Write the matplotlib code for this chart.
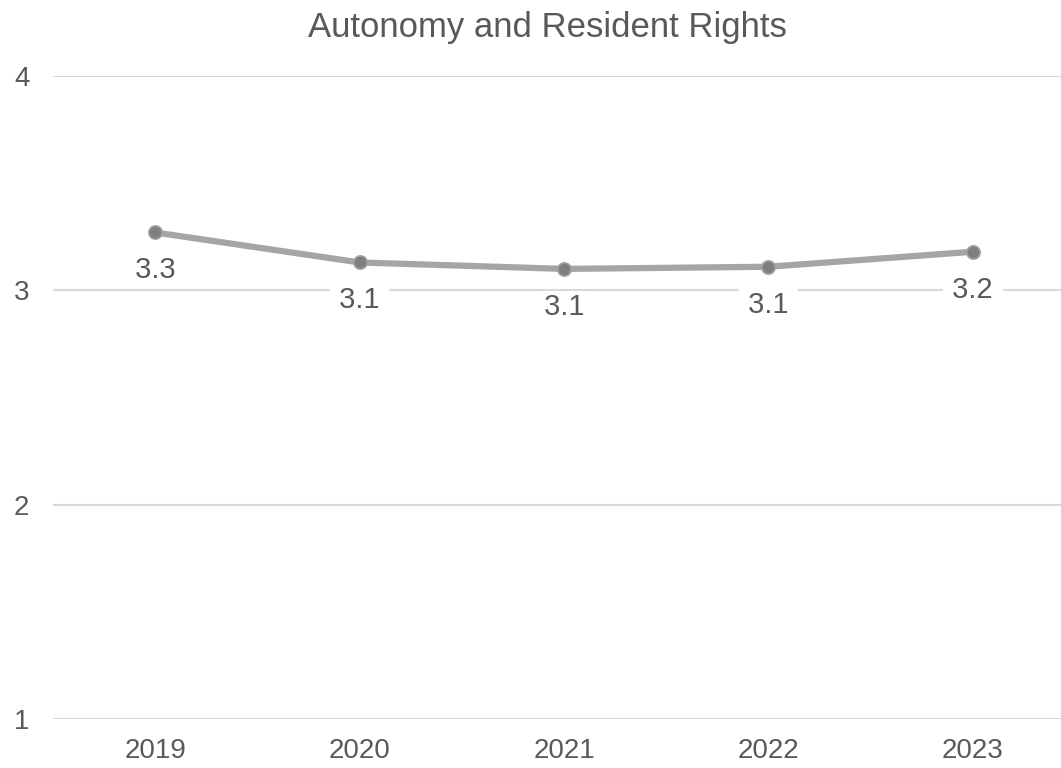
import matplotlib.pyplot as plt

plt.rcParams['font.family'] = ['Liberation Sans', 'DejaVu Sans']

years = ['2019', '2020', '2021', '2022', '2023']
scores = [3.27, 3.13, 3.10, 3.11, 3.18]
labels = ['3.3', '3.1', '3.1', '3.1', '3.2']
yticks = [1, 2, 3, 4]

text_col = '#595959'
grid_col = '#d9d9d9'

fig = plt.figure(figsize=(10.61, 7.68), dpi=100)
ax = fig.add_axes([53/1061, 1 - 719/768, 1022/1061, (719 - 76)/768])

x = list(range(len(years)))
ax.plot(x, scores, '-', color='#a5a5a5', lw=4.5, zorder=3, solid_capstyle='round')
ax.plot(x, scores, 'o', color='#7f7f7f', ms=9.5, mec='#a0a0a0', mew=1.2, zorder=4)

# data labels sit under the points, white box cuts the gridline
# (spaces widen the box sideways, small pad keeps it short vertically)
for xi, v, lab in zip(x, scores, labels):
    ax.annotate(' ' + lab + ' ', (xi, v), xytext=(0, -33), textcoords='offset points',
                ha='center', va='baseline', fontsize=21, color=text_col, zorder=5,
                bbox=dict(boxstyle='square,pad=0.05', fc='white', ec='none'))

ax.set_xlim(-0.5, 4.5)
ax.set_ylim(1, 4)
ax.set_xticks(x)
ax.set_xticklabels(years)
ax.set_yticks(yticks)
ax.tick_params(axis='both', length=0, labelsize=20, labelcolor=text_col)
ax.tick_params(axis='x', pad=13.5)
ax.tick_params(axis='y', pad=17)
ax.grid(axis='y', color=grid_col, lw=1.5)
ax.set_axisbelow(True)
for s in ax.spines.values():
    s.set_visible(False)

fig.text(547.5/1061, 1 - 37/768, 'Autonomy and Resident Rights', ha='center', va='baseline',
         fontsize=25, color=text_col)

fig.savefig('out.png', dpi=100)
